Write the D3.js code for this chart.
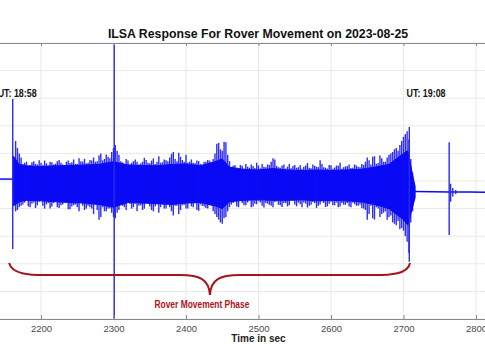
<!DOCTYPE html>
<html>
<head>
<meta charset="utf-8">
<script src="https://cdn.jsdelivr.net/npm/d3@7"></script>
<style>
  body { margin: 0; background: #fff; }
  svg { display: block; font-family: "Liberation Sans", Arial, sans-serif; }
</style>
</head>
<body>
<div id="chart"></div>
<script>
// ---- data ----
const title = "ILSA Response For Rover Movement on 2023-08-25";
const xLabel = "Time in sec";
const xTicks = [2100, 2200, 2300, 2400, 2500, 2600, 2700, 2800];
const yTicks = [-5, -4, -3, -2, -1, 0, 1, 2, 3, 4, 5];

// dense core of the signal (solid band)
const coreTime = [2162, 2170, 2180, 2200, 2220, 2240, 2260, 2280, 2300, 2320,
  2340, 2360, 2380, 2400, 2420, 2440, 2450, 2460, 2480, 2500,
  2520, 2540, 2560, 2580, 2600, 2620, 2640, 2660, 2680, 2690,
  2700, 2706, 2712, 2716];
const coreHigh = [0.90, 0.60, 0.55, 0.52, 0.55, 0.56, 0.58, 0.60, 0.70, 0.58,
  0.56, 0.55, 0.60, 0.62, 0.55, 0.70, 0.80, 0.50, 0.42, 0.40,
  0.45, 0.40, 0.38, 0.40, 0.38, 0.40, 0.42, 0.50, 0.60, 0.80,
  1.00, 1.10, 0.30, -0.20];
const coreLow = [-0.90, -0.75, -0.70, -0.72, -0.75, -0.78, -0.80, -0.85, -0.95, -0.78,
  -0.80, -0.82, -0.85, -0.80, -0.78, -0.90, -1.00, -0.75, -0.70, -0.68,
  -0.70, -0.70, -0.68, -0.72, -0.70, -0.72, -0.75, -0.85, -1.00, -1.20,
  -1.40, -1.60, -1.00, -0.60];

// peak envelope, one sample every 5 s from 2165 s
const envTime = [
  2165, 2170, 2175, 2180, 2185, 2190, 2195, 2200, 2205, 2210,
  2215, 2220, 2225, 2230, 2235, 2240, 2245, 2250, 2255, 2260,
  2265, 2270, 2275, 2280, 2285, 2290, 2295, 2300, 2305, 2310,
  2315, 2320, 2325, 2330, 2335, 2340, 2345, 2350, 2355, 2360,
  2365, 2370, 2375, 2380, 2385, 2390, 2395, 2400, 2405, 2410,
  2415, 2420, 2425, 2430, 2435, 2440, 2445, 2450, 2455, 2460,
  2465, 2470, 2475, 2480, 2485, 2490, 2495, 2500, 2505, 2510,
  2515, 2520, 2525, 2530, 2535, 2540, 2545, 2550, 2555, 2560,
  2565, 2570, 2575, 2580, 2585, 2590, 2595, 2600, 2605, 2610,
  2615, 2620, 2625, 2630, 2635, 2640, 2645, 2650, 2655, 2660,
  2665, 2670, 2675, 2680, 2685, 2690, 2695, 2700, 2705, 2710,
  2715
];
const envHigh = [
  1.45, 1.00, 0.62, 0.70, 0.58, 0.72, 0.60, 0.66, 0.74, 0.57,
  0.68, 0.63, 0.76, 0.60, 0.70, 0.65, 0.78, 0.62, 0.72, 0.80,
  0.66, 0.74, 0.70, 0.92, 0.75, 0.96, 0.82, 1.20, 1.10, 0.72,
  0.62, 0.74, 0.66, 0.78, 0.60, 0.70, 0.76, 0.64, 0.82, 0.70,
  0.66, 0.78, 0.72, 0.98, 0.80, 1.02, 0.76, 0.95, 0.70, 0.66,
  0.74, 0.62, 0.70, 0.76, 0.68, 1.00, 1.38, 1.10, 1.40, 0.72,
  0.55, 0.48, 0.58, 0.45, 0.52, 0.60, 0.47, 0.56, 0.62, 0.50,
  0.58, 0.82, 0.55, 0.48, 0.60, 0.52, 0.46, 0.58, 0.50, 0.44,
  0.56, 0.48, 0.60, 0.52, 0.75, 0.50, 0.45, 0.57, 0.49, 0.55,
  0.44, 0.53, 0.60, 0.48, 0.56, 0.50, 0.58, 0.85, 0.60, 0.90,
  0.65, 0.82, 0.70, 0.95, 1.05, 1.20, 1.30, 1.60, 1.80, 0.80,
  -0.10
];
const envLow = [
  -1.10, -0.95, -0.85, -0.70, -0.95, -0.78, -0.88, -0.65, -1.00, -0.80,
  -0.92, -0.72, -0.98, -0.85, -0.70, -1.02, -0.88, -0.95, -0.78, -1.05,
  -0.90, -1.00, -0.85, -1.40, -0.95, -1.10, -1.00, -1.30, -1.15, -0.85,
  -0.95, -0.70, -1.00, -0.82, -0.90, -1.05, -0.75, -0.92, -1.10, -0.85,
  -0.95, -1.00, -0.80, -1.10, -0.90, -1.20, -0.88, -1.00, -0.80, -0.95,
  -1.05, -0.85, -0.92, -1.00, -0.90, -1.20, -1.40, -1.55, -1.30, -0.95,
  -0.80, -0.92, -0.70, -0.88, -0.78, -0.95, -0.82, -0.72, -0.90, -0.80,
  -0.86, -0.95, -0.74, -0.88, -0.80, -0.92, -0.70, -0.85, -0.78, -0.95,
  -0.82, -0.90, -0.76, -0.98, -0.85, -0.80, -0.92, -0.75, -0.88, -0.95,
  -0.80, -0.86, -0.92, -0.78, -0.90, -0.85, -1.00, -1.40, -0.90, -1.40,
  -1.00, -1.20, -1.10, -1.30, -1.50, -1.60, -1.75, -1.80, -2.20, -1.50,
  -0.70
];

// second set of peaks, halfway between the ones above (2167.5 s .. 2712.5 s)
const envTime2 = [
  2167.5, 2172.5, 2177.5, 2182.5, 2187.5, 2192.5, 2197.5, 2202.5, 2207.5, 2212.5,
  2217.5, 2222.5, 2227.5, 2232.5, 2237.5, 2242.5, 2247.5, 2252.5, 2257.5, 2262.5,
  2267.5, 2272.5, 2277.5, 2282.5, 2287.5, 2292.5, 2297.5, 2302.5, 2307.5, 2312.5,
  2317.5, 2322.5, 2327.5, 2332.5, 2337.5, 2342.5, 2347.5, 2352.5, 2357.5, 2362.5,
  2367.5, 2372.5, 2377.5, 2382.5, 2387.5, 2392.5, 2397.5, 2402.5, 2407.5, 2412.5,
  2417.5, 2422.5, 2427.5, 2432.5, 2437.5, 2442.5, 2447.5, 2452.5, 2457.5, 2462.5,
  2467.5, 2472.5, 2477.5, 2482.5, 2487.5, 2492.5, 2497.5, 2502.5, 2507.5, 2512.5,
  2517.5, 2522.5, 2527.5, 2532.5, 2537.5, 2542.5, 2547.5, 2552.5, 2557.5, 2562.5,
  2567.5, 2572.5, 2577.5, 2582.5, 2587.5, 2592.5, 2597.5, 2602.5, 2607.5, 2612.5,
  2617.5, 2622.5, 2627.5, 2632.5, 2637.5, 2642.5, 2647.5, 2652.5, 2657.5, 2662.5,
  2667.5, 2672.5, 2677.5, 2682.5, 2687.5, 2692.5, 2697.5, 2702.5, 2707.5, 2712.5
];
const envHigh2 = [
  1.20, 0.85, 0.66, 0.55, 0.68, 0.62, 0.75, 0.58, 0.64, 0.70,
  0.60, 0.72, 0.66, 0.58, 0.74, 0.68, 0.62, 0.82, 0.70, 0.64,
  0.76, 0.85, 0.72, 1.00, 0.80, 0.88, 1.05, 1.30, 0.95, 0.68,
  0.80, 0.60, 0.72, 0.70, 0.64, 0.84, 0.66, 0.74, 0.62, 0.90,
  0.68, 0.75, 0.85, 1.05, 0.72, 0.88, 0.70, 0.66, 0.78, 0.64,
  0.72, 0.60, 0.70, 0.74, 0.80, 1.35, 1.15, 1.42, 0.95, 0.50,
  0.58, 0.44, 0.55, 0.62, 0.48, 0.54, 0.66, 0.46, 0.52, 0.60,
  0.70, 0.78, 0.50, 0.56, 0.45, 0.62, 0.54, 0.48, 0.58, 0.52,
  0.65, 0.46, 0.55, 0.50, 0.62, 0.48, 0.58, 0.44, 0.56, 0.66,
  0.50, 0.54, 0.47, 0.60, 0.52, 0.62, 0.70, 0.75, 0.88, 0.62,
  0.92, 0.70, 0.85, 1.00, 1.15, 1.10, 1.45, 1.70, 1.50, 0.30
];
const envLow2 = [
  -1.05, -0.90, -0.78, -0.92, -0.82, -0.98, -0.75, -0.90, -0.85, -1.00,
  -0.80, -0.95, -0.88, -0.78, -1.02, -0.92, -0.85, -1.10, -0.90, -1.00,
  -0.95, -1.20, -1.05, -1.30, -1.10, -1.00, -1.15, -1.35, -1.05, -0.90,
  -1.05, -0.82, -0.95, -1.10, -0.88, -1.00, -0.80, -1.05, -0.92, -1.15,
  -0.85, -1.00, -0.95, -1.25, -0.90, -1.05, -0.86, -1.00, -0.92, -0.80,
  -1.08, -0.90, -0.98, -0.85, -1.10, -1.30, -1.50, -1.35, -1.10, -0.85,
  -0.75, -0.95, -0.80, -0.88, -0.70, -0.92, -0.84, -0.78, -0.96, -0.82,
  -0.90, -0.76, -0.86, -0.94, -0.80, -0.88, -0.72, -0.92, -0.84, -0.78,
  -0.96, -0.86, -0.80, -0.90, -0.74, -0.94, -0.82, -0.88, -0.78, -0.92,
  -0.86, -0.80, -0.95, -0.84, -0.90, -0.98, -1.05, -1.20, -1.35, -0.95,
  -1.30, -1.15, -1.40, -1.25, -1.55, -1.45, -1.70, -2.00, -2.60, -1.10
];

// isolated impulses: time, top, bottom
const spikeTime = [2161, 2301, 2708, 2763, 2765, 2768, 2772];
const spikeHigh = [2.97, 4.95, 1.96, 1.40, -0.10, -0.25, -0.33];
const spikeLow  = [-2.46, -4.98, -2.93, -1.96, -0.75, -0.56, -0.47];

// quiet baseline before and after the movement
const quietBefore = [[2130, 0.07], [2161, 0.07]];
const quietAfter  = [[2715, -0.38], [2740, -0.39], [2763, -0.40], [2790, -0.40], [2820, -0.41]];

// annotations
const brace = { start: 2156, end: 2709, tip: 2433, top: -2.97, mid: -3.41, bottom: -4.13 };
const braceLabel = "Rover Movement Phase";
const marks = [
  { label: "UT: 18:58", t: 2194, v: 3.05 },
  { label: "UT: 19:08", t: 2758, v: 3.05 }
];

// ---- drawing ----
const W = 485, H = 353;
const svg = d3.select("#chart").append("svg")
  .attr("width", W).attr("height", H);

const x = d3.scaleLinear().domain([2130, 2820]).range([-9.75, 490.5]);
const y = d3.scaleLinear().domain([-5, 5]).range([319, 43]);

// grid
svg.append("g").selectAll("line").data(xTicks).enter().append("line")
  .attr("x1", d => x(d)).attr("x2", d => x(d))
  .attr("y1", y(5)).attr("y2", y(-5))
  .attr("stroke", "#e9e9e9").attr("stroke-width", 1);
svg.append("g").selectAll("line").data(yTicks).enter().append("line")
  .attr("x1", x(2130)).attr("x2", x(2820))
  .attr("y1", d => y(d)).attr("y2", d => y(d))
  .attr("stroke", "#e9e9e9").attr("stroke-width", 1);

// signal
const blue = "#0a0af5";
const core = coreTime.map((t, i) => ({ t: t, hi: coreHigh[i], lo: coreLow[i] }));
const peaks = envTime.map((t, i) => ({ t: t, hi: envHigh[i], lo: envLow[i] }))
  .concat(envTime2.map((t, i) => ({ t: t, hi: envHigh2[i], lo: envLow2[i] })));

svg.append("path").datum(quietBefore)
  .attr("fill", "none").attr("stroke", blue).attr("stroke-width", 1.5)
  .attr("d", d3.line().x(d => x(d[0])).y(d => y(d[1])));
svg.append("path").datum(quietAfter)
  .attr("fill", "none").attr("stroke", blue).attr("stroke-width", 1.6)
  .attr("d", d3.line().x(d => x(d[0])).y(d => y(d[1])));

svg.append("path").datum(core)
  .attr("fill", blue).attr("stroke", blue).attr("stroke-width", 1)
  .attr("d", d3.area().x(d => x(d.t)).y0(d => y(d.lo)).y1(d => y(d.hi)));

svg.append("g").selectAll("line").data(peaks).enter().append("line")
  .attr("x1", d => x(d.t)).attr("x2", d => x(d.t))
  .attr("y1", d => y(d.hi)).attr("y2", d => y(d.lo))
  .attr("stroke", blue).attr("stroke-width", 1.4).attr("opacity", 0.85);

svg.append("g").selectAll("line").data(spikeTime).enter().append("line")
  .attr("x1", d => x(d)).attr("x2", d => x(d))
  .attr("y1", (d, i) => y(spikeHigh[i])).attr("y2", (d, i) => y(spikeLow[i]))
  .attr("stroke", "#2a2af0").attr("stroke-width", 1.4);

// axes (inward ticks, matlab style)
const axisB = svg.append("g")
  .attr("transform", `translate(0,${y(-5)})`)
  .call(d3.axisBottom(x).tickValues(xTicks).tickFormat(d3.format("d"))
    .tickSizeInner(-4).tickSizeOuter(0).tickPadding(6));
axisB.select(".domain").attr("stroke", "#8a8a8a");
axisB.selectAll(".tick line").attr("stroke", "#8a8a8a");
axisB.selectAll(".tick text")
  .attr("fill", "#4a4a4a")
  .style("font-size", "9.5px")
  .style("font-family", "'Liberation Sans', Arial, sans-serif");

const axisT = svg.append("g")
  .attr("transform", `translate(0,${y(5)})`)
  .call(d3.axisTop(x).tickValues(xTicks).tickSizeInner(-3).tickSizeOuter(0).tickFormat(""));
axisT.select(".domain").attr("stroke", "#8a8a8a");
axisT.selectAll(".tick line").attr("stroke", "#8a8a8a");

// brace
const bx0 = x(brace.start), bx1 = x(brace.end), bt = x(brace.tip);
const yTop = y(brace.top), yMid = y(brace.mid), yBot = y(brace.bottom);
const p = d3.path();
p.moveTo(bx0, yTop);
p.bezierCurveTo(bx0 + 3, yMid - 1, bx0 + 20, yMid, bx0 + 36, yMid);
p.lineTo(bt - 30, yMid);
p.bezierCurveTo(bt - 10, yMid, bt - 1, yMid + 4, bt, yBot);
p.bezierCurveTo(bt + 1, yMid + 4, bt + 10, yMid, bt + 30, yMid);
p.lineTo(bx1 - 36, yMid);
p.bezierCurveTo(bx1 - 20, yMid, bx1 - 2, yMid - 1, bx1, yTop);
svg.append("path").attr("d", p.toString())
  .attr("fill", "none").attr("stroke", "#a8141e").attr("stroke-width", 2);

// condensed bold labels
svg.append("text")
  .attr("x", bt - 8).attr("y", 308)
  .attr("text-anchor", "middle")
  .attr("fill", "#b0121c")
  .attr("textLength", 95).attr("lengthAdjust", "spacingAndGlyphs")
  .style("font-weight", "bold")
  .style("font-size", "11.5px")
  .text(braceLabel);

svg.append("g").selectAll("text").data(marks).enter().append("text")
  .attr("x", d => x(d.t)).attr("y", d => y(d.v))
  .attr("text-anchor", "end")
  .attr("fill", "#111")
  .attr("textLength", 39).attr("lengthAdjust", "spacingAndGlyphs")
  .style("font-weight", "bold")
  .style("font-size", "11.5px")
  .text(d => d.label);

// titles
svg.append("text")
  .attr("x", 258).attr("y", 37.5)
  .attr("text-anchor", "middle")
  .attr("fill", "#111")
  .style("font-weight", "bold")
  .style("font-size", "12.3px")
  .text(title);

svg.append("text")
  .attr("x", x(2500)).attr("y", 342)
  .attr("text-anchor", "middle")
  .attr("fill", "#222")
  .style("font-weight", "bold")
  .style("font-size", "10px")
  .text(xLabel);
</script>
</body>
</html>
